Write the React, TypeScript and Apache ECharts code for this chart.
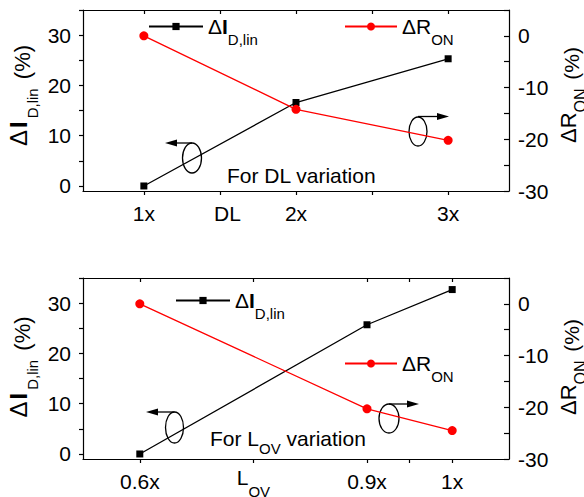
import React, { useEffect, useRef } from 'react';
import * as echarts from 'echarts';

// ---- data ----
const dlLabels = ['1x', '2x', '3x'];
const dlPos = [1, 2, 3];
const dlDeltaI = [0, 16.6, 25.3];
const dlDeltaR = [0, -14.2, -20.2];

const lovLabels = ['0.6x', '0.9x', '1x'];
const lovPos = [0, 8, 11];
const lovDeltaI = [0, 25.7, 32.7];
const lovDeltaR = [0, -20.3, -24.5];

const leftLabelVals = [0, 10, 20, 30];
const leftTickVals = [0, 5, 10, 15, 20, 25, 30, 35];
const rightLabelVals = [0, -10, -20, -30];
const rightTickVals = [5, 0, -5, -10, -15, -20, -25, -30];

const leftTitle = '{a|Δ}{b|I}{s|D,lin}{p| (%)}';
const rightTitle = '{a|ΔR}{s|ON}{p| (%)}';

const FONT = "'Liberation Sans', Arial, Helvetica, sans-serif";

const legendRich = {
  a: { fontSize: 21, lineHeight: 24, fontFamily: FONT, color: '#000' },
  b: { fontSize: 21, lineHeight: 24, fontFamily: FONT, fontWeight: 'bold', color: '#000' },
  s: { fontSize: 15, lineHeight: 18, fontFamily: FONT, color: '#000', padding: [26, 0, 0, 0] },
};

const titleRich = {
  a: { fontSize: 24, lineHeight: 27, fontFamily: FONT, fill: '#000' },
  b: { fontSize: 24, lineHeight: 27, fontFamily: FONT, fontWeight: 'bold', fill: '#000', padding: [0, 3, 0, 2] },
  s: { fontSize: 15, lineHeight: 18, fontFamily: FONT, fill: '#000', padding: [27, 0, 0, 0] },
  p: { fontSize: 22, lineHeight: 25, fontFamily: FONT, fill: '#000', padding: [8, 0, 0, 3] },
};
const titleRichR = {
  a: { fontSize: 22, lineHeight: 25, fontFamily: FONT, fill: '#000' },
  s: { fontSize: 16, lineHeight: 19, fontFamily: FONT, fill: '#000', padding: [24, 0, 0, 0] },
  p: { fontSize: 21, lineHeight: 24, fontFamily: FONT, fill: '#000', padding: [6, 0, 0, 3] },
};

const xRich = {
  m: { fontSize: 21, lineHeight: 24, fontFamily: FONT, color: '#000', padding: [0, 0, 8, 0] },
  s: { fontSize: 15, lineHeight: 18, fontFamily: FONT, color: '#000', padding: [20, 0, 0, 0] },
};

const noteRich = {
  a: { fontSize: 21, lineHeight: 24, fontFamily: FONT, fill: '#000' },
  s: { fontSize: 15, lineHeight: 18, fontFamily: FONT, fill: '#000', padding: [20, 0, 0, 0] },
};

const AX = { color: '#000', width: 1.2 };

function bottomX(gridIndex: number, min: number, max: number, ticks: number[], labels: number[], fmt: (v: number) => string) {
  return {
    type: 'value', gridIndex, position: 'bottom', min, max,
    axisLine: { show: true, onZero: false, lineStyle: AX },
    axisTick: { show: true, inside: false, length: 4, customValues: ticks, lineStyle: AX },
    axisLabel: {
      show: true, customValues: labels, formatter: fmt, margin: 22, verticalAlign: 'middle',
      fontSize: 21, color: '#000', fontFamily: FONT, rich: xRich,
    },
    splitLine: { show: false },
  };
}
function topX(gridIndex: number, min: number, max: number, ticks: number[]) {
  return {
    type: 'value', gridIndex, position: 'top', min, max,
    axisLine: { show: true, onZero: false, lineStyle: AX },
    axisTick: { show: true, inside: true, length: 4, customValues: ticks, lineStyle: AX },
    axisLabel: { show: false },
    splitLine: { show: false },
  };
}
function leftY(gridIndex: number) {
  return {
    type: 'value', gridIndex, position: 'left', min: -1, max: 35,
    axisLine: { show: true, onZero: false, lineStyle: AX },
    axisTick: { show: true, inside: false, length: 4, customValues: leftTickVals, lineStyle: AX },
    axisLabel: { show: true, customValues: leftLabelVals, margin: 12, fontSize: 21, color: '#000', fontFamily: FONT },
    splitLine: { show: false },
  };
}
function rightY(gridIndex: number) {
  return {
    type: 'value', gridIndex, position: 'right', min: -30, max: 5,
    axisLine: { show: true, onZero: false, lineStyle: AX },
    axisTick: { show: true, inside: true, length: 5, customValues: rightTickVals, lineStyle: AX },
    axisLabel: { show: true, customValues: rightLabelVals, margin: 9, fontSize: 21, color: '#000', fontFamily: FONT },
    splitLine: { show: false },
  };
}

const DL_NAME_POS = 1.55;
const LOV_NAME_POS = 4;

function dlFmt(v: number) {
  if (v === DL_NAME_POS) return 'DL';
  const i = dlPos.indexOf(v);
  return i >= 0 ? dlLabels[i] : '';
}
function lovFmt(v: number) {
  if (v === LOV_NAME_POS) return '{m|L}{s|OV}';
  const i = lovPos.indexOf(v);
  return i >= 0 ? lovLabels[i] : '';
}

function legendFmt(name: string) {
  return name === 'dI' ? '{a|Δ}{b|I}{s|D,lin}' : '{a|ΔR}{s|ON}';
}

function legend(name: string, left: number, top: number) {
  const isI = name === 'dI';
  return {
    data: [name], left, top, padding: 0, selectedMode: false,
    itemWidth: isI ? 54 : 52, itemHeight: isI ? 9 : 10,
    formatter: legendFmt,
    textStyle: { rich: legendRich, color: '#000', fontSize: 21, fontFamily: FONT },
  };
}

function lineSeries(name: string, xi: number, yi: number, xs: number[], ys: number[]) {
  const isI = name === 'dI';
  const c = isI ? '#000000' : '#ff0000';
  return {
    type: 'line', name, xAxisIndex: xi, yAxisIndex: yi,
    data: xs.map((x, i) => [x, ys[i]]),
    symbol: isI ? 'rect' : 'circle', symbolSize: isI ? 7 : 9,
    lineStyle: { color: c, width: 1.3 }, itemStyle: { color: c },
    z: isI ? 2 : 3,
  };
}

function ellipse(cx: number, cy: number, rx: number, ry: number) {
  return { type: 'ellipse', shape: { cx, cy, rx, ry }, style: { fill: 'none', stroke: '#000', lineWidth: 1.3 } };
}
function arrow(x1: number, x2: number, y: number) {
  const dir = x2 > x1 ? 1 : -1;
  const base = x2 - dir * 12;
  return [
    { type: 'polyline', shape: { points: [[x1, y], [base, y]] }, style: { stroke: '#000', fill: 'none', lineWidth: 1.3 } },
    { type: 'polygon', shape: { points: [[x2, y], [base, y - 3.5], [base, y + 3.5]] }, style: { fill: '#000' } },
  ];
}
function vTitle(text: string, rich: any, x: number, y: number) {
  return {
    type: 'text', x, y, rotation: Math.PI / 2,
    style: { text, rich, fontFamily: FONT, fill: '#000', align: 'center', verticalAlign: 'middle' },
  };
}

const option = {
  animation: false,
  backgroundColor: '#ffffff',
  textStyle: { fontFamily: FONT },
  grid: [
    { left: 83, top: 10, width: 426, height: 181, containLabel: false, outerBoundsMode: 'none' },
    { left: 83, top: 278, width: 426, height: 181, containLabel: false, outerBoundsMode: 'none' },
  ],
  xAxis: [
    bottomX(0, 0.6, 3.4, [1, 1.5, 2, 2.5, 3], [1, DL_NAME_POS, 2, 3], dlFmt),
    topX(0, 0.6, 3.4, [1, 1.5, 2, 2.5, 3]),
    bottomX(1, -2, 13, [0, 4, 8, 9.5, 11], [0, LOV_NAME_POS, 8, 11], lovFmt),
    topX(1, -2, 13, [0, 4, 8, 9.5, 11]),
  ],
  yAxis: [leftY(0), rightY(0), leftY(1), rightY(1)],
  legend: [
    legend('dI', 148, 6),
    legend('dR', 344, 6),
    legend('dI', 175, 280),
    legend('dR', 344, 343),
  ],
  series: [
    lineSeries('dI', 0, 0, dlPos, dlDeltaI),
    lineSeries('dR', 0, 1, dlPos, dlDeltaR),
    lineSeries('dI', 2, 2, lovPos, lovDeltaI),
    lineSeries('dR', 2, 3, lovPos, lovDeltaR),
  ],
  graphic: [
    vTitle(leftTitle, titleRich, 18.5, 95.5),
    vTitle(rightTitle, titleRichR, 568, 95),
    vTitle(leftTitle, titleRich, 18.5, 367),
    vTitle(rightTitle, titleRichR, 568, 367),
    ellipse(192, 158, 9.5, 15),
    ...arrow(192, 165, 143),
    ellipse(418, 131.5, 9, 14.5),
    ...arrow(418, 449, 116.5),
    ellipse(174.5, 427.5, 9, 15.5),
    ...arrow(174.5, 146, 412),
    ellipse(389, 418.5, 10, 14.5),
    ...arrow(389, 419, 404),
    {
      type: 'text', x: 227, y: 175.5,
      style: { text: 'For DL variation', fontSize: 21, fontFamily: FONT, fill: '#000', verticalAlign: 'middle' },
    },
    {
      type: 'text', x: 210, y: 438,
      style: { text: '{a|For L}{s|OV}{a| variation}', rich: noteRich, fontSize: 21, fontFamily: FONT, fill: '#000', verticalAlign: 'middle' },
    },
  ],
};

export default function App() {
  const ref = useRef<HTMLDivElement>(null);
  useEffect(() => {
    document.body.style.margin = '0';
    const chart = echarts.init(ref.current!, null, { renderer: 'svg' });
    chart.setOption(option as any);
    return () => chart.dispose();
  }, []);
  return <div ref={ref} style={{ width: 584, height: 497 }} />;
}
